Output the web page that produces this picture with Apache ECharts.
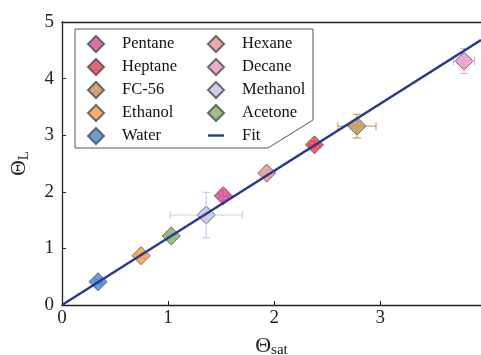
<!DOCTYPE html>
<html><head><meta charset="utf-8">
<script src="https://cdn.jsdelivr.net/npm/echarts@6/dist/echarts.min.js"></script>
<style>html,body{margin:0;padding:0;background:#fff}#c{width:481px;height:355px}</style>
</head><body><div id="c"></div>
<script>
const fluids = ['Pentane','Hexane','Heptane','Decane','FC-56','Methanol','Ethanol','Acetone','Water'];
const thetaSat = [1.52, 1.93, 2.38, 3.79, 2.78, 1.36, 0.745, 1.03, 0.34];
const thetaL   = [1.93, 2.33, 2.83, 4.31, 3.16, 1.59, 0.87, 1.22, 0.41];
const errX     = [0.04, 0.05, 0.05, 0.10, 0.18, 0.34, 0.04, 0.04, 0.03];
const errY     = [0.10, 0.06, 0.06, 0.22, 0.21, 0.40, 0.05, 0.05, 0.04];
const colors   = ['#d9559a','#e39a9c','#ea4652','#ec9dcb','#c29a5c','#c6c6e8','#f6a34c','#8ab472','#4a8bd3'];
const fitX = [0, 3.95];
const fitSlope = 1.185;
const legendCol1 = ['Pentane','Heptane','FC-56','Ethanol','Water'];
const legendCol2 = ['Hexane','Decane','Methanol','Acetone','Fit'];

const serif = 'Liberation Serif';
const chart = echarts.init(document.getElementById('c'));
const series = [];
fluids.forEach((f,i)=>{
  series.push({
    type:'scatter', name:f, symbol:'diamond', symbolSize:[18,18], z:3,
    data:[[thetaSat[i], thetaL[i]]],
    itemStyle:{color:colors[i], opacity:0.85, borderColor:'#555', borderWidth:1}
  });
  series.push({
    type:'custom', name:f+' err', silent:true, z:4,
    data:[[thetaSat[i], thetaL[i], errX[i], errY[i]]],
    renderItem:(params, api)=>{
      const x=api.value(0), y=api.value(1), ex=api.value(2), ey=api.value(3);
      const l=api.coord([x-ex,y]), r=api.coord([x+ex,y]), t=api.coord([x,y+ey]), b=api.coord([x,y-ey]);
      const cap=4, st={stroke:colors[i], lineWidth:1.2, opacity:0.9};
      return {type:'group', children:[
        {type:'line', shape:{x1:l[0],y1:l[1],x2:r[0],y2:r[1]}, style:st},
        {type:'line', shape:{x1:l[0],y1:l[1]-cap,x2:l[0],y2:l[1]+cap}, style:st},
        {type:'line', shape:{x1:r[0],y1:r[1]-cap,x2:r[0],y2:r[1]+cap}, style:st},
        {type:'line', shape:{x1:t[0],y1:t[1],x2:b[0],y2:b[1]}, style:st},
        {type:'line', shape:{x1:t[0]-cap,y1:t[1],x2:t[0]+cap,y2:t[1]}, style:st},
        {type:'line', shape:{x1:b[0]-cap,y1:b[1],x2:b[0]+cap,y2:b[1]}, style:st}
      ]};
    }
  });
});
series.push({
  type:'line', name:'Fit', z:5, symbol:'none', showSymbol:false,
  data: fitX.map(x=>[x, x*fitSlope]),
  lineStyle:{color:'#2c3a8c', width:2.5}, itemStyle:{color:'#2c3a8c'}
});

const legendBase = {
  orient:'vertical', itemWidth:16, itemHeight:16, itemGap:5, padding:0,
  textStyle:{fontFamily:serif, fontSize:16.5, color:'#111', padding:[0,0,0,13]},
  selectedMode:false
};
const mkData = arr => arr.map(n => n==='Fit' ? {name:n, icon:'path://M0,0L20,0L20,3L0,3Z'} : {name:n, icon:'diamond'});
chart.setOption({
  animation:false,
  grid:{left:62, right:0, top:22, bottom:50, outerBoundsMode:'none', containLabel:false},
  xAxis:[{
    type:'value', min:0, max:3.95, interval:1,
    axisLine:{lineStyle:{color:'#222', width:1.3}},
    axisTick:{inside:true, length:4, lineStyle:{color:'#222'}},
    axisLabel:{fontFamily:serif, fontSize:19, color:'#222', margin:4, showMaxLabel:false},
    splitLine:{show:false},
    name:'{a|Θ}{b|sat}', nameLocation:'middle', nameGap:29,
    nameTextStyle:{rich:{a:{fontFamily:serif,fontSize:22,color:'#222'}, b:{fontFamily:serif,fontSize:15,color:'#222',padding:[9,0,0,0]}}}
  },{
    type:'value', position:'top', min:0, max:3.95,
    axisLine:{show:true, lineStyle:{color:'#222', width:1.3}},
    axisTick:{show:false}, axisLabel:{show:false}, splitLine:{show:false}
  }],
  yAxis:{
    type:'value', min:0, max:5, interval:1,
    axisLine:{show:true, lineStyle:{color:'#222', width:1.3}},
    axisTick:{show:true, inside:true, length:4, lineStyle:{color:'#222'}},
    axisLabel:{fontFamily:serif, fontSize:19, color:'#222', margin:8},
    splitLine:{show:false},
    name:'{a|Θ}{b|L}', nameLocation:'middle', nameGap:30, nameRotate:90,
    nameTextStyle:{rich:{a:{fontFamily:serif,fontSize:22,color:'#222'}, b:{fontFamily:serif,fontSize:15,color:'#222',padding:[10,0,0,0]}}}
  },
  legend:[
    Object.assign({}, legendBase, {data:mkData(legendCol1), left:87, top:35}),
    Object.assign({}, legendBase, {data:mkData(legendCol2), left:207, top:35})
  ],
  graphic:[{
    type:'polygon', z:-1, silent:true,
    shape:{points:[[75,29],[313,29],[313,120],[268,148],[75,148]]},
    style:{fill:'#fff', stroke:'#555', lineWidth:1}
  }],
  series: series
});
</script></body></html>
